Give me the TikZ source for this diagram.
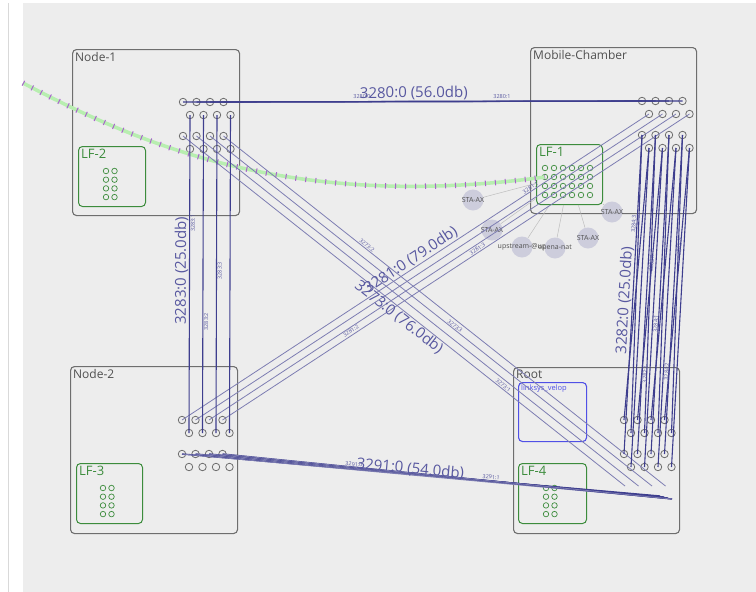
\documentclass[tikz,border=0pt]{standalone}
\usepackage{fontspec}
\setmainfont{Open Sans}
\usepackage{tikz}
\usetikzlibrary{calc}
\definecolor{bggray}{RGB}{237,237,237}
\definecolor{boxgray}{RGB}{110,110,110}
\definecolor{txtgray}{RGB}{80,80,80}
\definecolor{lfgreen}{RGB}{60,140,60}
\definecolor{velopblue}{RGB}{80,80,230}
\definecolor{linkdark}{RGB}{62,62,142}
\definecolor{linklight}{RGB}{125,125,178}
\definecolor{linktext}{RGB}{88,88,160}
\definecolor{wifigreen}{RGB}{184,238,176}
\definecolor{tickpurple}{RGB}{168,100,205}
\definecolor{stafill}{RGB}{200,200,218}

\begin{document}
\begin{tikzpicture}[x=1pt, y=-1pt,
  box/.style={draw=boxgray, line width=1.1pt, rounded corners=4pt, anchor=north west, inner sep=0pt},
  boxname/.style={anchor=north west, text=txtgray, font=\fontsize{12}{12}\selectfont, inner sep=3pt},
  lf/.style={draw=lfgreen, line width=1pt, rounded corners=4pt, anchor=north west, inner sep=0pt},
  lfname/.style={anchor=north west, text=lfgreen, font=\fontsize{13}{13}\selectfont, inner sep=3pt},
  lfdot/.style={circle, draw=lfgreen, line width=0.7pt, minimum size=5.5pt, inner sep=0pt},
  port/.style={circle, draw=boxgray, line width=0.8pt, minimum size=7.5pt, inner sep=0pt},
  hlink/.style={draw=linkdark, line width=1.2pt},
  vlink/.style={draw=linkdark, line width=1.1pt},
  xlink/.style={draw=linklight, line width=0.8pt},
  biglbl/.style={text=linktext, font=\fontsize{15}{15}\selectfont, sloped, inner sep=1pt},
  smalllbl/.style={text=linktext, font=\fontsize{5.5}{5.5}\selectfont, sloped, inner sep=1pt},
  wifi/.style={draw=wifigreen, line width=3.5pt, postaction={draw=tickpurple, line width=5.5pt, dash pattern=on 1pt off 9pt}},
  sta/.style={circle, fill=stafill, fill opacity=0.85, minimum size=21pt, inner sep=0pt},
  staname/.style={text=txtgray, font=\fontsize{7}{7}\selectfont, inner sep=0pt},
  stalink/.style={draw=boxgray!45, line width=0.5pt}]

  \useasboundingbox (0,0) rectangle (756,592);
  \fill[white] (0,0) rectangle (756,592);
  \fill[bggray] (23,3) rectangle (756,592);
  \draw[gray!30, line width=0.6pt] (8,3) -- (8,592);

  \node[box, minimum width=167pt, minimum height=166pt] (node1) at (72,49) {};
  \node[boxname] at (node1.north west) {Node-1};
  \node[box, minimum width=166pt, minimum height=166pt] (mobile) at (530,47) {};
  \node[boxname] at (mobile.north west) {Mobile-Chamber};
  \node[box, minimum width=167pt, minimum height=167pt] (node2) at (70,366) {};
  \node[boxname] at (node2.north west) {Node-2};
  \node[box, minimum width=166pt, minimum height=166pt] (root) at (513,367) {};
  \node[boxname] at (root.north west) {Root};

  \node[box, draw=velopblue, minimum width=68pt, minimum height=59pt] (velop) at (518,382) {};
  \node[anchor=north west, text=velopblue, font=\fontsize{7.5}{7.5}\selectfont, inner sep=3pt] at (velop.north west) {linksys\_velop};

  \node[lf, minimum width=67pt, minimum height=60pt] (lf2) at (78,146) {};
  \node[lfname] at (lf2.north west) {LF-2};
  \node[lf, minimum width=66pt, minimum height=60pt] (lf1) at (536,144) {};
  \node[lfname] at (lf1.north west) {LF-1};
  \node[lf, minimum width=66pt, minimum height=60pt] (lf3) at (76,463) {};
  \node[lfname] at (lf3.north west) {LF-3};
  \node[lf, minimum width=68pt, minimum height=60pt] (lf4) at (518,463) {};
  \node[lfname] at (lf4.north west) {LF-4};

  \foreach \lfn/\lx/\ly in {lf2/106/171, lf3/103/488, lf4/546/488}
    \foreach \col in {0,1}
      \foreach \row in {0,...,3}
        \node[lfdot] (\lfn-\col-\row) at ({\lx+8.5*\col},{\ly+8.7*\row}) {};
  \foreach \col in {0,...,5}
    \foreach \row in {0,...,3}
      \node[lfdot] (lf1-\col-\row) at ({545+9*\col},{168+9*\row}) {};

  \foreach \bx/\px/\py in {n1/183/102, mc/642/101, n2/182/420, rt/624/420}
    \foreach \row/\ox/\oy in {1/0/0, 2/7/13, 3/0/34, 4/7/47}
      \foreach \col in {1,...,4}
        \node[port] (\bx-\row-\col) at ({\px+\ox+13.5*(\col-1)},{\py+\oy}) {};

  \foreach \i in {1,...,4} {
    \coordinate (rt-end\i) at ({625+13.5*(\i-1)},486);
    \coordinate (rt-tail\i) at ({660+4*(\i-1)},{496+1*(\i-1)});
  }

  \draw[wifi] (23,83) .. controls (150,150) and (300,210) .. (lf1-0-1.center);

  \node[sta, label={[staname]center:STA-AX}] (sta1) at (473,200) {};
  \node[sta, label={[staname]center:STA-AX}] (sta2) at (492,230) {};
  \node[sta, label={[staname]center:upstream-@up}] (up) at (522,247) {};
  \node[sta, label={[staname]center:opena-nat}] (nat) at (555,248) {};
  \node[sta, label={[staname]center:STA-AX}] (sta3) at (588,238) {};
  \node[sta, label={[staname]center:STA-AX}] (sta4) at (612,212) {};
  \foreach \s in {sta1, sta2, up, nat, sta3, sta4}
    \draw[stalink] (lf1) -- (\s);

  \foreach \i in {1,...,4} {
    \draw[xlink] (n2-1-\i.center) -- (mc-2-\i.center);
    \draw[xlink] (n1-3-\i.center) -- (rt-end\i);
  }
  \path (n2-1-1.center) -- node[biglbl, pos=0.5, above] {3281:0 (79.0db)} node[smalllbl, pos=0.75, above] {3281:1} (mc-2-1.center);
  \path (n2-1-3.center) -- node[smalllbl, pos=0.3, below] {3281:2} (mc-2-3.center);
  \path (n2-1-4.center) -- node[smalllbl, pos=0.55, above] {3281:3} (mc-2-4.center);
  \path (n1-3-1.center) -- node[biglbl, pos=0.5, below] {3273:0 (76.0db)} node[smalllbl, pos=0.72, above] {3273:1} (rt-end1);
  \path (n1-3-4.center) -- node[smalllbl, pos=0.32, above] {3273:2} (rt-end4);
  \path (n1-3-3.center) -- node[smalllbl, pos=0.55, above] {3273:3} (rt-end3);

  \foreach \i in {1,...,4}
    \draw[hlink] (n1-1-\i.center) -- (mc-1-\i.center);
  \path (n1-1-1.center) -- node[biglbl, pos=0.503, above] {3280:0 (56.0db)} node[smalllbl, pos=0.39, above=2pt] {3280:0} node[smalllbl, pos=0.695, above=2pt] {3280:1} (mc-1-1.center);

  \foreach \i in {1,...,4}
    \draw[vlink] (n2-2-\i.center) -- (n1-2-\i.center);
  \path (n2-2-1.center) -- node[biglbl, pos=0.51, above] {3283:0 (25.0db)} node[smalllbl, pos=0.66, below] {3283:1} (n1-2-1.center);
  \path (n2-2-2.center) -- node[smalllbl, pos=0.35, below] {3283:2} (n1-2-2.center);
  \path (n2-2-3.center) -- node[smalllbl, pos=0.51, below] {3283:3} (n1-2-3.center);

  \foreach \i in {1,...,4} {
    \draw[vlink] (rt-3-\i.center) -- (mc-3-\i.center);
    \draw[vlink] (rt-4-\i.center) -- (mc-4-\i.center);
    \draw[vlink] (rt-1-\i.center) -- (mc-4-\i.center);
    \draw[vlink] (rt-2-\i.center) -- (mc-3-\i.center);
  }
  \path (rt-3-1.center) -- node[biglbl, pos=0.48, above] {3282:0 (25.0db)} node[smalllbl, pos=0.72, above] {3284:3} (mc-3-1.center);
  \path (rt-3-2.center) -- node[smalllbl, pos=0.6, below] {3282:1} node[smalllbl, pos=0.25, below] {3282:2} (mc-3-2.center);
  \path (rt-3-4.center) -- node[smalllbl, pos=0.65, below] {3282:3} (mc-3-4.center);
  \path (rt-4-2.center) -- node[smalllbl, pos=0.45, below] {3284:1} (mc-4-2.center);
  \path (rt-4-3.center) -- node[smalllbl, pos=0.3, below] {3284:2} (mc-4-3.center);

  \foreach \i in {1,...,4} {
    \draw[hlink, line width=1.4pt] (n2-3-\i.center) -- (rt-tail\i);
    \draw[linklight, line width=0.8pt] (n2-3-\i.center) -- (rt-tail4);
  }
  \path (n2-3-1.center) -- node[biglbl, pos=0.465, above=-2pt] {3291:0 (54.0db)} node[smalllbl, pos=0.35, above=2pt] {3291:0} node[smalllbl, pos=0.63, above=2pt] {3291:1} (rt-tail4);
\end{tikzpicture}
\end{document}
